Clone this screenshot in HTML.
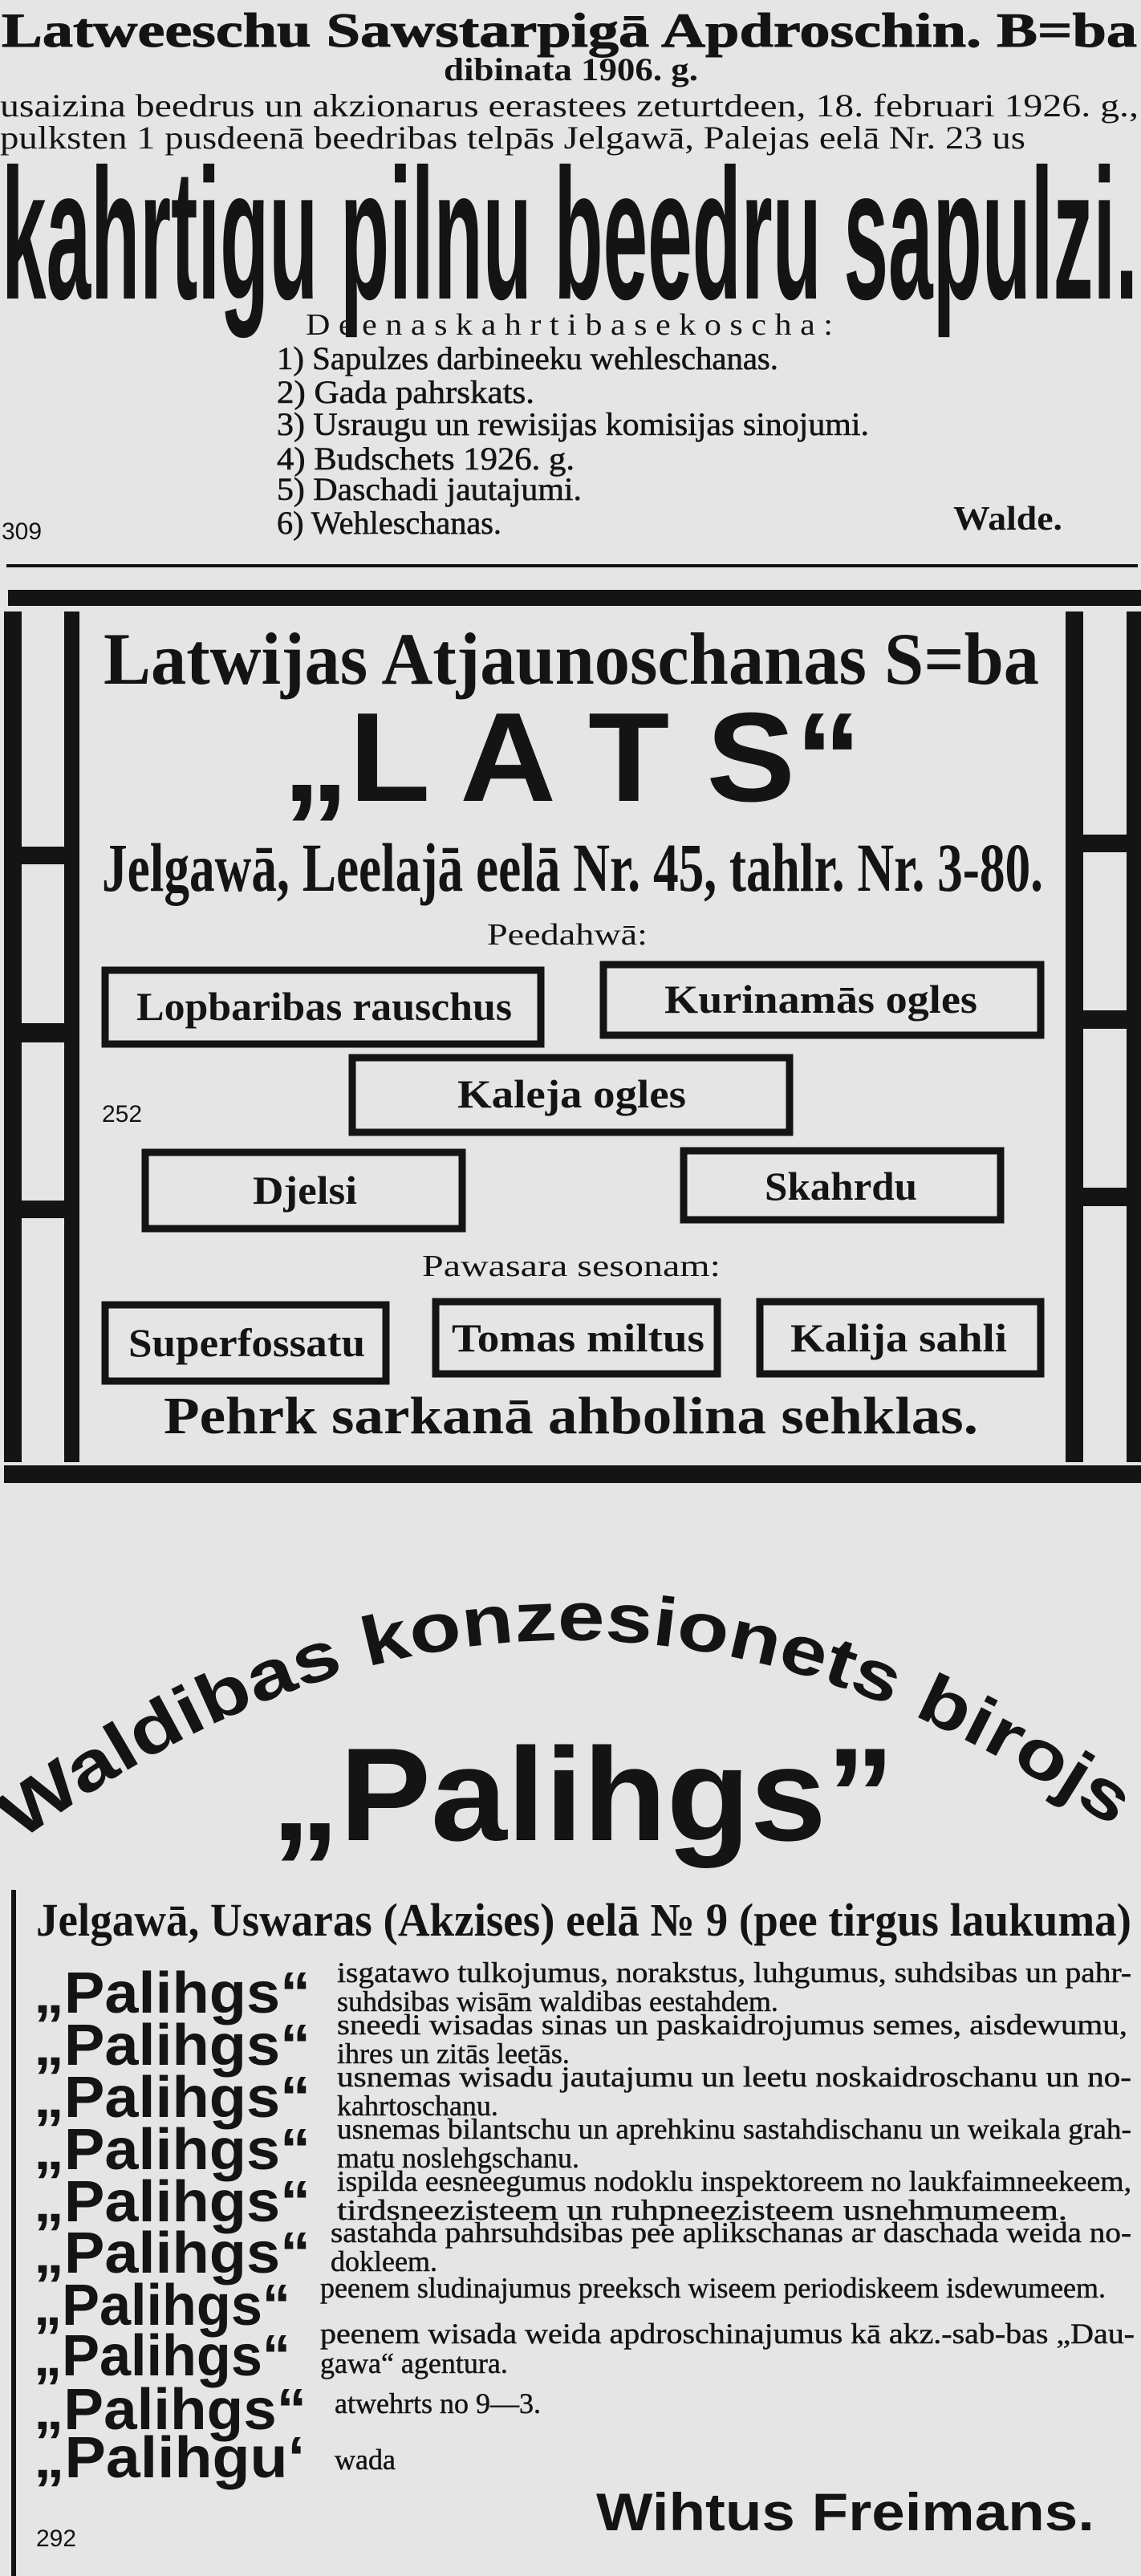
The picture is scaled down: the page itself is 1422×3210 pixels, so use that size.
<!DOCTYPE html>
<html><head><meta charset="utf-8"><style>
html,body{margin:0;padding:0;background:#e5e5e5;}
svg{display:block}
.s{font-family:"Liberation Serif",serif;font-weight:bold;fill:#141414}
.a{font-family:"Liberation Sans",sans-serif;font-weight:bold;fill:#141414}
</style></head><body>
<svg width="1422" height="3210" viewBox="0 0 1422 3210" xmlns="http://www.w3.org/2000/svg">
<rect width="1422" height="3210" fill="#e5e5e5"/>
<g fill="#141414">
<!-- Section 1 -->
<text class="s" x="2" y="58" font-size="60" textLength="1415" lengthAdjust="spacingAndGlyphs" stroke="#141414" stroke-width="1">Latweeschu Sawstarpigā Apdroschin. B=ba</text>
<text class="s" x="553" y="100" font-size="40" textLength="317" lengthAdjust="spacingAndGlyphs">dibinata 1906. g.</text>
<text class="s" x="0" y="145" font-size="40" textLength="1419" lengthAdjust="spacingAndGlyphs" style="font-weight:normal">usaizina beedrus un akzionarus eerastees zeturtdeen, 18. februari 1926. g.,</text>
<text class="s" x="0" y="185" font-size="40" textLength="1278" lengthAdjust="spacingAndGlyphs" style="font-weight:normal">pulksten 1 pusdeenā beedribas telpās Jelgawā, Palejas eelā Nr. 23 us</text>
<text class="a" x="2" y="372" font-size="232" textLength="1416" lengthAdjust="spacingAndGlyphs">kahrtigu pilnu beedru sapulzi.</text>
<text class="s" x="381" y="417" font-size="38" textLength="657" lengthAdjust="spacingAndGlyphs" style="font-weight:normal">D e e n a s  k a h r t i b a  s e k o s c h a :</text>
<g class="s" font-size="40" style="font-weight:normal" stroke="#141414" stroke-width="0.6">
<text x="345" y="460" textLength="625" lengthAdjust="spacingAndGlyphs">1) Sapulzes darbineeku wehleschanas.</text>
<text x="345" y="502" textLength="321" lengthAdjust="spacingAndGlyphs">2) Gada pahrskats.</text>
<text x="345" y="542" textLength="738" lengthAdjust="spacingAndGlyphs">3) Usraugu un rewisijas komisijas sinojumi.</text>
<text x="345" y="585" textLength="371" lengthAdjust="spacingAndGlyphs">4) Budschets 1926. g.</text>
<text x="345" y="623" textLength="380" lengthAdjust="spacingAndGlyphs">5) Daschadi jautajumi.</text>
<text x="345" y="665" textLength="280" lengthAdjust="spacingAndGlyphs">6) Wehleschanas.</text>
</g>
<text class="a" x="2" y="672" font-size="30" style="font-weight:normal">309</text>
<text class="s" x="1188" y="660" font-size="42" textLength="136" lengthAdjust="spacingAndGlyphs">Walde.</text>
<rect x="8" y="703" width="1410" height="4"/>

<!-- Section 2 frame -->
<rect x="10" y="735" width="1412" height="20"/>
<rect x="5" y="762" width="22" height="1060"/>
<rect x="80" y="762" width="19" height="1060"/>
<rect x="1328" y="762" width="22" height="1060"/>
<rect x="1404" y="762" width="18" height="1060"/>
<rect x="5" y="1826" width="1417" height="22"/>
<rect x="27" y="1055" width="53" height="22"/>
<rect x="27" y="1275" width="53" height="24"/>
<rect x="27" y="1496" width="53" height="22"/>
<rect x="1350" y="1040" width="54" height="22"/>
<rect x="1350" y="1259" width="54" height="23"/>
<rect x="1350" y="1480" width="54" height="23"/>

<text class="s" x="129" y="852" font-size="92" textLength="1166" lengthAdjust="spacingAndGlyphs">Latwijas Atjaunoschanas S=ba</text>
<text class="a" x="352" y="998" font-size="158" textLength="722" lengthAdjust="spacingAndGlyphs">„L A T S“</text>
<text class="s" x="127" y="1110" font-size="86" textLength="1173" lengthAdjust="spacingAndGlyphs">Jelgawā, Leelajā eelā Nr. 45, tahlr. Nr. 3-80.</text>
<text class="s" x="607" y="1177" font-size="38" textLength="200" lengthAdjust="spacingAndGlyphs" style="font-weight:normal">Peedahwā:</text>

<g fill="none" stroke="#141414" stroke-width="9">
<rect x="131" y="1209" width="543" height="92"/>
<rect x="752" y="1202" width="545" height="88"/>
<rect x="439" y="1318" width="545" height="93"/>
<rect x="181" y="1436" width="395" height="95"/>
<rect x="852" y="1434" width="395" height="86"/>
<rect x="131" y="1626" width="350" height="95"/>
<rect x="543" y="1622" width="351" height="90"/>
<rect x="947" y="1622" width="350" height="90"/>
</g>
<g class="s" font-size="50">
<text x="170" y="1271" textLength="468" lengthAdjust="spacingAndGlyphs">Lopbaribas rauschus</text>
<text x="828" y="1262" textLength="390" lengthAdjust="spacingAndGlyphs">Kurinamās ogles</text>
<text x="570" y="1380" textLength="285" lengthAdjust="spacingAndGlyphs">Kaleja ogles</text>
<text x="315" y="1500" textLength="130" lengthAdjust="spacingAndGlyphs">Djelsi</text>
<text x="953" y="1495" textLength="190" lengthAdjust="spacingAndGlyphs">Skahrdu</text>
<text x="160" y="1690" textLength="295" lengthAdjust="spacingAndGlyphs">Superfossatu</text>
<text x="563" y="1684" textLength="315" lengthAdjust="spacingAndGlyphs">Tomas miltus</text>
<text x="985" y="1684" textLength="270" lengthAdjust="spacingAndGlyphs">Kalija sahli</text>
</g>
<text class="a" x="127" y="1398" font-size="30" style="font-weight:normal">252</text>
<text class="s" x="526" y="1590" font-size="38" textLength="372" lengthAdjust="spacingAndGlyphs" style="font-weight:normal">Pawasara sesonam:</text>
<text class="s" x="204" y="1786" font-size="66" textLength="1015" lengthAdjust="spacingAndGlyphs">Pehrk sarkanā ahbolina sehklas.</text>

<!-- Section 3 -->
<path id="arc" d="M 25 2295 Q 705 1790 1420 2300" fill="none"/>
<text class="a" font-size="86"><textPath href="#arc" textLength="1470" lengthAdjust="spacingAndGlyphs">Waldibas konzesionets birojs</textPath></text>
<text class="a" x="338" y="2293" font-size="165" textLength="777" lengthAdjust="spacingAndGlyphs">„Palihgs”</text>

<!-- Section 4 -->
<rect x="14" y="2355" width="6" height="855"/>
<text class="s" x="45" y="2412" font-size="58" textLength="1365" lengthAdjust="spacingAndGlyphs">Jelgawā, Uswaras (Akzises) eelā № 9 (pee tirgus laukuma)</text>
<g class="a" font-size="72">
<text x="42" y="2508" textLength="345" lengthAdjust="spacingAndGlyphs">„Palihgs“</text>
<text x="42" y="2573" textLength="345" lengthAdjust="spacingAndGlyphs">„Palihgs“</text>
<text x="42" y="2638" textLength="345" lengthAdjust="spacingAndGlyphs">„Palihgs“</text>
<text x="42" y="2703" textLength="345" lengthAdjust="spacingAndGlyphs">„Palihgs“</text>
<text x="42" y="2768" textLength="345" lengthAdjust="spacingAndGlyphs">„Palihgs“</text>
<text x="42" y="2832" textLength="345" lengthAdjust="spacingAndGlyphs">„Palihgs“</text>
<text x="42" y="2897" textLength="320" lengthAdjust="spacingAndGlyphs">„Palihgs“</text>
<text x="42" y="2960" textLength="320" lengthAdjust="spacingAndGlyphs">„Palihgs“</text>
<text x="42" y="3027" textLength="340" lengthAdjust="spacingAndGlyphs">„Palihgs“</text>
<text x="42" y="3087" textLength="338" lengthAdjust="spacingAndGlyphs">„Palihgu‘</text>
</g>
<g class="s" font-size="36" style="font-weight:normal" stroke="#141414" stroke-width="0.5">
<text x="420" y="2470" textLength="990" lengthAdjust="spacingAndGlyphs">isgatawo tulkojumus, norakstus, luhgumus, suhdsibas un pahr-</text>
<text x="420" y="2506">suhdsibas wisām waldibas eestahdem.</text>
<text x="420" y="2535" textLength="985" lengthAdjust="spacingAndGlyphs">sneedi wisadas sinas un paskaidrojumus semes, aisdewumu,</text>
<text x="420" y="2571">ihres un zitās leetās.</text>
<text x="420" y="2600" textLength="990" lengthAdjust="spacingAndGlyphs">usnemas wisadu jautajumu un leetu noskaidroschanu un no-</text>
<text x="420" y="2636">kahrtoschanu.</text>
<text x="420" y="2665" textLength="990" lengthAdjust="spacingAndGlyphs">usnemas bilantschu un aprehkinu sastahdischanu un weikala grah-</text>
<text x="420" y="2701">matu noslehgschanu.</text>
<text x="420" y="2730" textLength="990" lengthAdjust="spacingAndGlyphs">ispilda eesneegumus nodoklu inspektoreem no laukfaimneekeem,</text>
<text x="420" y="2766" textLength="910" lengthAdjust="spacingAndGlyphs">tirdsneezisteem un ruhpneezisteem usnehmumeem.</text>
<text x="412" y="2794" textLength="998" lengthAdjust="spacingAndGlyphs">sastahda pahrsuhdsibas pee aplikschanas ar daschada weida no-</text>
<text x="412" y="2830">dokleem.</text>
<text x="399" y="2863" textLength="979" lengthAdjust="spacingAndGlyphs">peenem sludinajumus preeksch wiseem periodiskeem isdewumeem.</text>
<text x="399" y="2920" textLength="1015" lengthAdjust="spacingAndGlyphs">peenem wisada weida apdroschinajumus kā akz.-sab-bas „Dau-</text>
<text x="399" y="2957">gawa“ agentura.</text>
<text x="417" y="3007">atwehrts no 9—3.</text>
<text x="417" y="3077">wada</text>
</g>
<text class="a" x="45" y="3173" font-size="30" style="font-weight:normal">292</text>
<text class="a" x="743" y="3153" font-size="66" textLength="621" lengthAdjust="spacingAndGlyphs">Wihtus Freimans.</text>
</g>
</svg>
</body></html>
